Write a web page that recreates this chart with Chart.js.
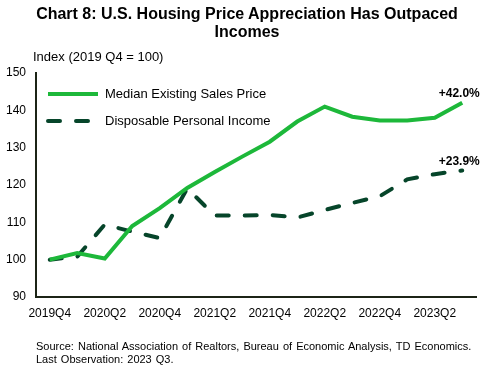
<!DOCTYPE html>
<html>
<head>
<meta charset="utf-8">
<script src="https://cdn.jsdelivr.net/npm/chart.js@4.4.0/dist/chart.umd.min.js"></script>
<style>
    body { margin: 0; background: #ffffff; font-family: "Liberation Sans", Arial, sans-serif; }
    #wrap { position: relative; width: 496px; height: 370px; overflow: hidden; }
    #title { position: absolute; left: 0; top: 5px; width: 494px; text-align: center; font-weight: bold; font-size: 16px; line-height: 18px; color: #000; }
    #unit { position: absolute; left: 33px; top: 49px; font-size: 13px; color: #000; }
    #source { position: absolute; left: 36px; top: 340px; font-size: 11px; line-height: 13px; word-spacing: 1px; color: #000; }
    canvas { position: absolute; left: 0; top: 0; }
</style>
</head>
<body>
<div id="wrap">
    <canvas id="myChart" width="496" height="370"></canvas>
    <div id="title">Chart 8: U.S. Housing Price Appreciation Has Outpaced<br>Incomes</div>
    <div id="unit">Index (2019 Q4 = 100)</div>
    <div id="source">Source: National Association of Realtors, Bureau of Economic Analysis, TD Economics.<br>Last Observation: 2023 Q3.</div>
</div>
<script>
const quarters = ['2019Q4', '2020Q1', '2020Q2', '2020Q3', '2020Q4', '2021Q1', '2021Q2', '2021Q3',
    '2021Q4', '2022Q1', '2022Q2', '2022Q3', '2022Q4', '2023Q1', '2023Q2', '2023Q3'];
const medianPrice = [100, 101.8, 100.3, 109, 113.8, 119.2, 123.5, 127.6,
    131.6, 137, 141, 138.3, 137.3, 137.3, 138, 142];
const disposableIncome = [100, 100.8, 109.4, 107.5, 105.8, 119.1, 111.8, 111.8,
    112, 111.3, 113.3, 115.2, 117, 121.5, 122.9, 123.9];
const endLabels = ['+42.0%', '+23.9%'];

const brightGreen = '#1db83a';
const darkGreen = '#06452a';
const axisColor = '#1c2416';

// legend drawn inside the plot area, top left
const innerLegend = {
    id: 'innerLegend',
    afterDraw(chart) {
        const ctx = chart.ctx;
        const area = chart.chartArea;
        ctx.save();
        ctx.font = '13px "Liberation Sans", Arial, sans-serif';
        ctx.fillStyle = '#000';
        ctx.textBaseline = 'middle';
        chart.data.datasets.forEach((ds, i) => {
            const y = area.top + 21 + i * 27;
            ctx.beginPath();
            ctx.strokeStyle = ds.borderColor;
            ctx.lineWidth = 4;
            ctx.lineCap = ds.borderCapStyle || 'butt';
            ctx.setLineDash(ds.borderDash || []);
            ctx.moveTo(area.left + 12, y);
            ctx.lineTo(area.left + 62, y);
            ctx.stroke();
            ctx.setLineDash([]);
            ctx.fillText(ds.label, area.left + 69, y);
        });
        ctx.restore();
    }
};

// end-of-line change labels
const endValueLabels = {
    id: 'endValueLabels',
    afterDatasetsDraw(chart) {
        const ctx = chart.ctx;
        ctx.save();
        ctx.font = 'bold 12px "Liberation Sans", Arial, sans-serif';
        ctx.fillStyle = '#000';
        ctx.textAlign = 'center';
        ctx.textBaseline = 'bottom';
        chart.data.datasets.forEach((ds, i) => {
            const pts = chart.getDatasetMeta(i).data;
            const last = pts[pts.length - 1];
            ctx.fillText(endLabels[i], last.x - 3, last.y - 3);
        });
        ctx.restore();
    }
};

const ctx = document.getElementById('myChart').getContext('2d');
new Chart(ctx, {
    type: 'line',
    data: {
        labels: quarters,
        datasets: [
            {
                label: 'Median Existing Sales Price',
                data: medianPrice,
                borderColor: brightGreen,
                borderWidth: 4,
                borderCapStyle: 'butt',
                pointRadius: 0,
                tension: 0,
                fill: false
            },
            {
                label: 'Disposable Personal Income',
                data: disposableIncome,
                borderColor: darkGreen,
                borderWidth: 4,
                borderDash: [12, 16],
                borderCapStyle: 'round',
                pointRadius: 0,
                tension: 0,
                fill: false
            }
        ]
    },
    options: {
        responsive: false,
        animation: false,
        layout: {
            padding: { top: 73, right: 20, bottom: 0, left: 0 }
        },
        scales: {
            x: {
                offset: true,
                afterFit: (scale) => { scale.height = 73; },
                grid: { display: false, drawTicks: false },
                border: { display: true, color: axisColor, width: 2 },
                ticks: {
                    autoSkip: false,
                    maxRotation: 0,
                    padding: 9,
                    color: '#000',
                    font: { family: '"Liberation Sans", Arial, sans-serif', size: 12 },
                    callback: function (value, index) {
                        return index % 2 === 0 ? this.getLabelForValue(value) : '';
                    }
                }
            },
            y: {
                min: 90,
                max: 150,
                afterFit: (scale) => { scale.width = 36; },
                grid: { display: false, drawTicks: false },
                border: { display: true, color: axisColor, width: 2 },
                ticks: {
                    stepSize: 10,
                    padding: 10,
                    color: '#000',
                    font: { family: '"Liberation Sans", Arial, sans-serif', size: 12 }
                }
            }
        },
        plugins: {
            legend: { display: false },
            tooltip: { enabled: false }
        }
    },
    plugins: [innerLegend, endValueLabels]
});
</script>
</body>
</html>
